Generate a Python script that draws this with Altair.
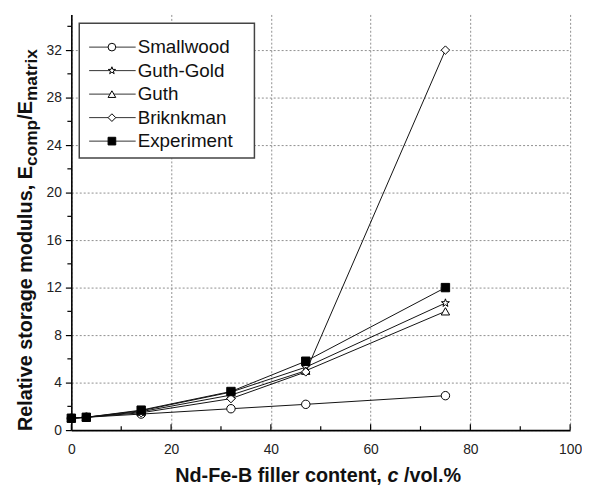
import altair as alt
import pandas as pd

# ---------------- data ----------------
x_vals = [0, 3, 14, 32, 47, 75]
smallwood = [1.0, 1.08, 1.35, 1.8, 2.17, 2.9]
guth_gold = [1.0, 1.08, 1.63, 3.2, 5.3, 10.7]
guth = [1.0, 1.08, 1.55, 2.95, 5.0, 10.0]
brinkman = [1.0, 1.08, 1.46, 2.65, 4.9, 32.0]
experiment = [1.0, 1.08, 1.68, 3.25, 5.8, 12.0]
series_names = ["Smallwood", "Guth-Gold", "Guth", "Briknkman", "Experiment"]

x_ticks = [0, 20, 40, 60, 80, 100]
x_minor = [10, 30, 50, 70, 90]
y_ticks = [0, 4, 8, 12, 16, 20, 24, 28, 32]
y_minor = [2, 6, 10, 14, 18, 22, 26, 30, 34]

# ---------------- styles ----------------
STAR = ("M0,-1L0.235,-0.324L0.951,-0.309L0.38,0.124L0.588,0.809L0,0.4"
        "L-0.588,0.809L-0.38,0.124L-0.951,-0.309L-0.235,-0.324Z")
shapes = ["circle", STAR, "triangle-up", "diamond", "square"]
fills = ["white", "white", "white", "white", "black"]
FONT = "Liberation Sans"
W, H = 504, 420

rows = []
for name, ys in zip(series_names, [smallwood, guth_gold, guth, brinkman, experiment]):
    for xv, yv in zip(x_vals, ys):
        rows.append({"series": name, "x": xv, "y": yv})
df = pd.DataFrame(rows)
leg = pd.DataFrame({"series": series_names})
one = pd.DataFrame({"k": [0]})

xs = alt.Scale(domain=[0, 100], nice=False, zero=False)
ys_ = alt.Scale(domain=[0, 35], nice=False, zero=False)
shape_scale = alt.Scale(domain=series_names, range=shapes)
fill_scale = alt.Scale(domain=series_names, range=fills)

GRID = "#8f8f8f"

# main axes (with dotted grid) + lines
lines = alt.Chart(df).mark_line(color="#111", strokeWidth=1).encode(
    x=alt.X("x:Q", scale=xs, title=None, axis=alt.Axis(
        values=x_ticks, grid=True, gridColor=GRID, gridDash=[2, 2],
        gridWidth=1, ticks=False, domain=True,
        domainColor="black", domainWidth=1.6, labelFontSize=14, labelFont=FONT,
        labelColor="#222", labelPadding=13, labelFlush=False)),
    y=alt.Y("y:Q", scale=ys_, title=None, axis=alt.Axis(
        values=y_ticks, grid=True, gridColor=GRID, gridDash=[2, 2],
        gridWidth=1, ticks=True, tickSize=6,
        tickColor="black", tickWidth=1.2, domain=True, domainColor="black",
        domainWidth=1.6, labelFontSize=14, labelFont=FONT, labelColor="#222",
        labelPadding=4)),
    detail="series:N",
    order="x:Q",
)

# inward x ticks, outward minor y ticks
xt_major = alt.Chart(pd.DataFrame({"v": x_ticks})).mark_rule(
    color="black", strokeWidth=1.2).encode(
    x=alt.X("v:Q", scale=xs), y=alt.value(H), y2=alt.value(H - 6))
xt_minor = alt.Chart(pd.DataFrame({"v": x_minor})).mark_rule(
    color="black", strokeWidth=1.2).encode(
    x=alt.X("v:Q", scale=xs), y=alt.value(H), y2=alt.value(H - 4))
yt_minor = alt.Chart(pd.DataFrame({"v": y_minor})).mark_rule(
    color="black", strokeWidth=1.2).encode(
    y=alt.Y("v:Q", scale=ys_), x=alt.value(-4), x2=alt.value(0))

points = alt.Chart(df).mark_point(filled=True, stroke="black", strokeWidth=1,
                                  size=72, opacity=1).encode(
    x=alt.X("x:Q", scale=xs),
    y=alt.Y("y:Q", scale=ys_),
    shape=alt.Shape("series:N", scale=shape_scale, legend=None),
    fill=alt.Fill("series:N", scale=fill_scale, legend=None),
)

main = alt.layer(lines, xt_major, xt_minor, yt_minor, points)

# ---------------- legend ----------------
leg_y = alt.Y("series:N", scale=alt.Scale(type="point", domain=series_names,
                                          range=[33, 128], padding=0), axis=None)
box = alt.Chart(one).mark_rect(fill="white", stroke="#444", strokeWidth=1.5).encode(
    x=alt.value(8), x2=alt.value(185), y=alt.value(9), y2=alt.value(145))
leg_line = alt.Chart(leg).mark_rule(color="#333", strokeWidth=1).encode(
    x=alt.value(18), x2=alt.value(65), y=leg_y)
leg_pt = alt.Chart(leg).mark_point(filled=True, stroke="black", strokeWidth=1,
                                   size=60, opacity=1).encode(
    x=alt.value(41), y=leg_y,
    shape=alt.Shape("series:N", scale=shape_scale, legend=None),
    fill=alt.Fill("series:N", scale=fill_scale, legend=None))
leg_txt = alt.Chart(leg).mark_text(align="left", baseline="middle", fontSize=19,
                                   font=FONT, color="#111").encode(
    x=alt.value(67), y=leg_y, text="series:N")
legend = alt.layer(leg_line, leg_pt, leg_txt)

# ---------------- axis titles (rich text pieces) ----------------
def txt(s, x, y, size, angle=0, italic=False):
    kw = dict(text=s, align="left", baseline="alphabetic", fontSize=size,
              fontWeight="bold", font=FONT, color="#111")
    if angle:
        kw["angle"] = angle
    if italic:
        kw["fontStyle"] = "italic"
    return alt.Chart(one).mark_text(**kw).encode(x=alt.value(x), y=alt.value(y))

MAIN, SUB = 20, 17.5
y0 = 421
w_main1 = 13.393 * MAIN
w_comp = 2.667 * SUB
w_slash = 0.945 * MAIN
ytitle = [
    txt("Relative storage modulus, E", -40, y0, MAIN, angle=270),
    txt("comp", -35, y0 - w_main1, SUB, angle=270),
    txt("/E", -40, y0 - w_main1 - w_comp, MAIN, angle=270),
    txt("matrix", -35, y0 - w_main1 - w_comp - w_slash, SUB, angle=270),
]
x0, yb = 105, 472
xtitle = [
    txt("Nd-Fe-B filler content,", x0, yb, MAIN),
    txt("c", x0 + 10.723 * MAIN, yb, MAIN, italic=True),
    txt("/vol.%", x0 + 11.557 * MAIN, yb, MAIN),
]

chart = alt.layer(
    main, box, legend, *ytitle, *xtitle
).resolve_scale(
    y="independent"
).properties(
    width=W, height=H,
    autosize=alt.AutoSizeParams(type="none"),
    padding={"left": 64, "top": 4, "right": 12, "bottom": 58},
).configure_view(stroke=None)

chart.save("out.html", embed_options={"renderer": "svg", "actions": False})
